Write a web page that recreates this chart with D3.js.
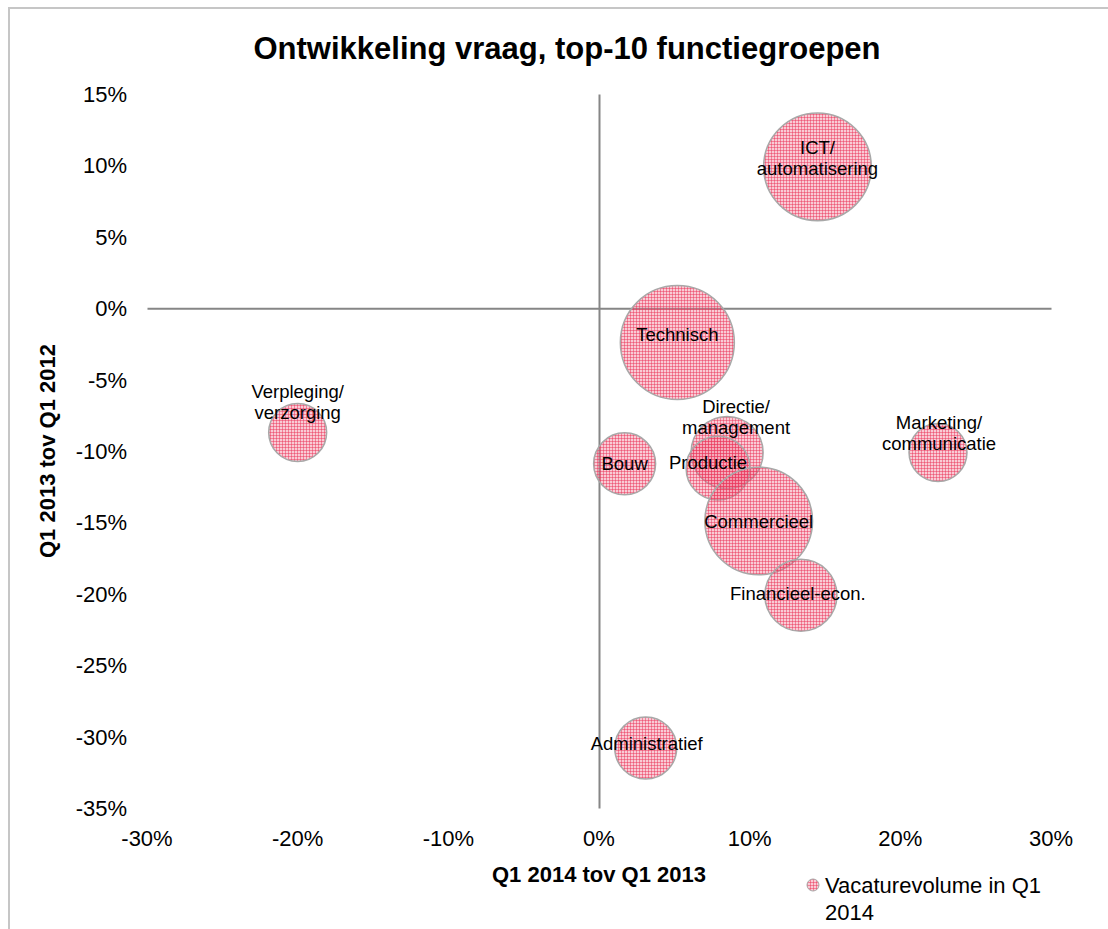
<!DOCTYPE html>
<html>
<head>
<meta charset="utf-8">
<script src="https://cdn.jsdelivr.net/npm/d3@7"></script>
<style>
  body { margin: 0; background: #fff; }
  text { font-family: "Liberation Sans", Arial, sans-serif; fill: #000; }
</style>
</head>
<body>
<div id="chart"></div>
<script>
// functiegroepen, groei Q1 2014 tov Q1 2013 (x), groei Q1 2013 tov Q1 2012 (y), volume Q1 2014
var categories = ["ICT/automatisering", "Technisch", "Verpleging/verzorging", "Bouw", "Directie/management",
  "Productie", "Commercieel", "Financieel-econ.", "Marketing/communicatie", "Administratief"];
var growth2014 = [0.145, 0.052, -0.200, 0.017, 0.085, 0.079, 0.106, 0.134, 0.225, 0.031];
var growth2013 = [0.099, -0.024, -0.087, -0.109, -0.101, -0.112, -0.149, -0.201, -0.101, -0.308];
var volume = [2900, 3250, 840, 960, 1300, 1020, 2900, 1300, 840, 960];
var xTicks = [-0.3, -0.2, -0.1, 0, 0.1, 0.2, 0.3];
var yTicks = [0.15, 0.1, 0.05, 0, -0.05, -0.1, -0.15, -0.2, -0.25, -0.3, -0.35];

// label nudges (px) relative to bubble centre
var labelShift = [[0, -8], [0, -7], [0, -30], [0, 0], [9, -35], [-10, -5], [0, 1], [-3, -1], [1, -19], [1, -4]];

var width = 1108, height = 929,
  margin = {left: 147, right: 57, top: 94, bottom: 121};

var svg = d3.select("#chart").append("svg")
  .attr("width", width)
  .attr("height", height);

// frame
svg.append("path")
  .attr("d", "M9," + height + "V8H" + width)
  .attr("fill", "none")
  .attr("stroke", "#c6c6c6")
  .attr("stroke-width", 2);

var defs = svg.append("defs");
var pat = defs.append("pattern")
  .attr("id", "grid")
  .attr("patternUnits", "userSpaceOnUse")
  .attr("width", 3).attr("height", 3);
pat.append("rect").attr("width", 3).attr("height", 3)
  .attr("fill", "#f0708c").attr("fill-opacity", 0.36);
pat.append("path").attr("d", "M0,0.5H3M0.5,0V3")
  .attr("stroke", "#ea3358").attr("stroke-opacity", 0.48).attr("stroke-width", 1);

var x = d3.scaleLinear().domain([-0.3, 0.3]).range([margin.left, width - margin.right]);
var y = d3.scaleLinear().domain([-0.35, 0.15]).range([height - margin.bottom, margin.top]);
var r = d3.scaleSqrt().domain([0, d3.max(volume)]).range([0, 57]);
var pct = function (d) { return d3.format(".0%")(d).replace("\u2212", "-"); };

// title
svg.append("text")
  .attr("x", 567).attr("y", 59)
  .attr("text-anchor", "middle")
  .style("font-size", "31px").style("font-weight", "bold")
  .text("Ontwikkeling vraag, top-10 functiegroepen");

// axes through zero
svg.append("g")
  .attr("transform", "translate(0," + y(0) + ")")
  .call(d3.axisBottom(x).tickValues([]).tickSizeOuter(0));
svg.append("g")
  .attr("transform", "translate(" + x(0) + ",0)")
  .call(d3.axisLeft(y).tickValues([]).tickSizeOuter(0));
svg.selectAll(".domain").attr("stroke", "#868686").attr("stroke-width", 2);

// tick labels at chart edges
svg.append("g").selectAll("text")
  .data(xTicks).enter().append("text")
  .attr("x", function (d) { return x(d); })
  .attr("y", height - margin.bottom + 38)
  .attr("text-anchor", "middle")
  .style("font-size", "22px")
  .text(function (d) { return pct(d); });

svg.append("g").selectAll("text")
  .data(yTicks).enter().append("text")
  .attr("x", margin.left - 20)
  .attr("y", function (d) { return y(d) + 8; })
  .attr("text-anchor", "end")
  .style("font-size", "22px")
  .text(function (d) { return pct(d); });

// axis titles
svg.append("text")
  .attr("x", 599).attr("y", 882)
  .attr("text-anchor", "middle")
  .style("font-size", "22px").style("font-weight", "bold")
  .text("Q1 2014 tov Q1 2013");
svg.append("text")
  .attr("transform", "translate(55,451) rotate(-90)")
  .attr("text-anchor", "middle")
  .style("font-size", "22px").style("font-weight", "bold")
  .text("Q1 2013 tov Q1 2012");

// bubbles
var data = categories.map(function (c, i) {
  return { name: c, gx: growth2014[i], gy: growth2013[i], vol: volume[i], shift: labelShift[i] };
});

svg.append("g").selectAll("circle")
  .data(data).enter().append("circle")
  .attr("cx", function (d) { return x(d.gx); })
  .attr("cy", function (d) { return y(d.gy); })
  .attr("r", function (d) { return r(d.vol); })
  .attr("fill", "url(#grid)")
  .attr("stroke", "#a8a8a8")
  .attr("stroke-width", 1.5);

var labels = svg.append("g").selectAll("text")
  .data(data).enter().append("text")
  .attr("text-anchor", "middle")
  .style("font-size", "18.5px")
  .attr("transform", function (d) {
    return "translate(" + (x(d.gx) + d.shift[0]) + "," + (y(d.gy) + d.shift[1]) + ")";
  });
labels.each(function (d) {
  var parts = d.name.indexOf("/") > -1 ? [d.name.split("/")[0] + "/", d.name.split("/")[1]] : [d.name];
  var t = d3.select(this);
  parts.forEach(function (p, j) {
    t.append("tspan")
      .attr("x", 0)
      .attr("y", (j - (parts.length - 1) / 2) * 21 + 6)
      .text(p);
  });
});

// legend
svg.append("circle")
  .attr("cx", 813).attr("cy", 885).attr("r", 6)
  .attr("fill", "url(#grid)").attr("stroke", "#a8a8a8");
var leg = svg.append("text").style("font-size", "22px");
leg.append("tspan").attr("x", 825).attr("y", 893).text("Vacaturevolume in Q1");
leg.append("tspan").attr("x", 825).attr("y", 920).text("2014");
</script>
</body>
</html>
